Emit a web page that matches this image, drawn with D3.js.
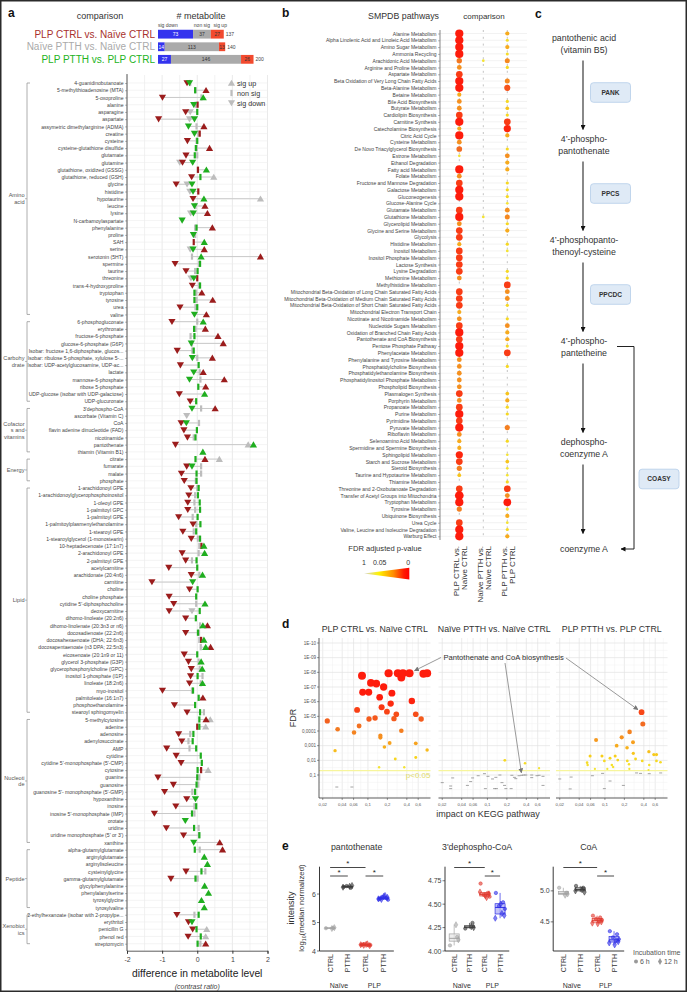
<!DOCTYPE html>
<html><head><meta charset="utf-8">
<script src="https://cdn.jsdelivr.net/npm/d3@7"></script>
<style>html,body{margin:0;padding:0;background:#fff}svg{display:block}</style>
</head><body>
<script>
// ================= DATA =================
// ---- panel a ----
const comparisons = ["PLP CTRL vs. Naïve CTRL","Naïve PTTH vs. Naïve CTRL","PLP PTTH vs. PLP CTRL"];
const countDown = [73,14,27];
const countNonSig = [37,113,146];
const countUp = [27,13,26];
const countTotal = [137,140,200];

const metabolites = ["4-guanidinobutanoate","5-methylthioadenosine (MTA)","5-oxoproline","alanine","asparagine","aspartate","assymetric dimethylarginine (ADMA)","creatine","cysteine","cysteine-glutathione disulfide",
"glutamate","glutamine","glutathione, oxidized (GSSG)","glutathione, reduced (GSH)","glycine","histidine","hypotaurine","leucine","lysine","N-carbamoylaspartate",
"phenylalanine","proline","SAH","serine","serotonin (5HT)","spermine","taurine","threonine","trans-4-hydroxyproline","tryptophan",
"tyrosine","urea","valine","6-phosphogluconate","erythronate","fructose-6-phosphate","glucose-6-phosphate (G6P)","Isobar: fructose 1,6-diphosphate, glucos...","Isobar: ribulose 5-phosphate, xylulose 5-...","Isobar: UDP-acetylglucosamine, UDP-ac...",
"lactate","mannose-6-phosphate","ribose 5-phosphate","UDP-glucose (isobar with UDP-galactose)","UDP-glucuronate","3'dephospho-CoA","ascorbate (Vitamin C)","CoA","flavin adenine dinucleotide (FAD)","nicotinamide",
"pantothenate","thiamin (Vitamin B1)","citrate","fumarate","malate","phosphate","1-arachidonoyl GPE","1-arachidonoylglycerophosphoinositol","1-oleoyl GPE","1-palmitoyl GPC",
"1-palmitoyl GPE","1-palmitoylplasmenylethanolamine","1-stearoyl GPE","1-stearoylglycerol (1-monostearin)","10-heptadecenoate (17:1n7)","2-arachidonoyl GPE","2-palmitoyl GPE","acetylcarnitine","arachidonate (20:4n6)","carnitine",
"choline","choline phosphate","cytidine 5'-diphosphocholine","deoxycarnitine","dihomo-linoleate (20:2n6)","dihomo-linolenate (20:3n3 or n6)","docosadienoate (22:2n6)","docosahexaenoate (DHA; 22:6n3)","docosapentaenoate (n3 DPA; 22:5n3)","eicosenoate (20:1n9 or 11)",
"glycerol 3-phosphate (G3P)","glycerophosphorylcholine (GPC)","inositol 1-phosphate (I1P)","linoleate (18:2n6)","myo-inositol","palmitoleate (16:1n7)","phosphoethanolamine","stearoyl sphingomyelin","5-methylcytosine","adenine",
"adenosine","adenylosuccinate","AMP","cytidine","cytidine 5'-monophosphate (5'-CMP)","cytosine","guanine","guanosine","guanosine 5'- monophosphate (5'-GMP)","hypoxanthine",
"inosine","inosine 5'-monophosphate (IMP)","orotate","uridine","uridine monophosphate (5' or 3')","xanthine","alpha-glutamylglutamate","arginylglutamate","arginylisoleucine","cysteinylglycine",
"gamma-glutamylglutamate","glycylphenylalanine","phenylalanylserine","tyrosylglycine","tyrosylvaline","2-ethylhexanoate (isobar with 2-propylpe...","erythritol","penicillin G","phenol red","streptomycin"];

const classLabels = [["Amino","acid"],["Carbohy","drate"],["Cofactor","s and","vitamins"],["Energy"],["Lipid"],["Nucleoti","de"],["Peptide"],["Xenobiot","ics"]];
const classSizes = [33,12,7,4,32,18,9,5];

// PLP CTRL vs. Naïve CTRL
const plpCtrlVal = [-0.29,0.25,-0.99,0.01,-0.33,-1.10,0.19,0.07,-0.28,0.35,
-0.32,-0.42,0.02,-0.16,-0.60,0.03,-0.12,0.22,0.29,null,
0.43,null,-0.10,0.20,1.80,-0.63,-0.32,0.00,-0.14,0.13,
0.44,-0.49,0.26,-0.72,0.23,0.59,0.74,-0.57,0.43,-0.48,
0.17,0.77,0.24,-0.51,-0.20,0.51,null,-0.46,-0.38,-0.28,
-0.62,null,0.22,-0.30,-0.45,-0.37,-0.18,-0.24,-0.27,-0.27,
-0.53,-0.12,-0.41,-0.17,0.12,-0.43,-0.33,-0.81,-0.17,-1.29,
-0.22,-0.80,-0.67,-0.80,-0.33,0.29,-0.33,0.11,0.38,-0.37,
-0.25,-0.17,-0.19,-0.22,-0.99,0.16,-0.65,-0.29,0.25,0.00,
-0.53,-0.44,-0.87,-0.60,-0.46,0.11,-1.12,-0.68,-0.93,-0.30,
-0.61,-1.22,null,-0.88,-0.39,0.64,0.72,null,null,-0.32,
-0.75,null,null,null,null,-0.58,-0.25,-0.13,-0.26,0.24];
const plpCtrlSig = ["d","u","d","n","d","d","u","n","d","u",
"d","d","n","d","d","n","d","u","u",null,
"u",null,"n","u","u","d","d","n","d","u",
"u","d","u","d","u","u","u","d","u","d",
"u","u","u","d","d","u",null,"d","d","d",
"d",null,"u","d","d","d","d","d","d","d",
"d","d","d","d","n","d","d","d","d","d",
"d","d","d","d","d","u","d","n","u","d",
"d","d","d","d","d","u","d","d","u","n",
"d","d","d","d","d","n","d","d","d","d",
"d","d",null,"d","d","u","u",null,null,"d",
"d",null,null,null,null,"d","d","d","d","u"];
// Naïve PTTH vs. Naïve CTRL
const naivePtthVal = [-0.20,-0.05,0.12,-0.05,-0.20,-0.22,-0.02,0.03,-0.02,-0.01,
0.00,-0.50,0.02,0.47,-0.29,-0.21,1.80,-0.05,-0.19,null,
-0.06,-0.06,null,-0.20,-0.15,0.05,-0.06,-0.18,0.05,-0.03,
-0.02,-0.05,null,0.00,-0.05,-0.19,-0.15,-0.14,0.00,null,
0.07,0.09,null,null,null,0.11,-0.30,0.05,null,-0.10,
1.45,null,0.63,0.11,0.11,-0.04,0.00,-0.06,-0.08,-0.06,
-0.13,-0.03,-0.10,0.02,0.06,0.04,-0.15,null,0.06,null,
null,null,-0.03,-0.15,null,0.08,0.05,0.06,0.10,null,
0.04,0.07,0.15,0.10,-0.15,null,null,0.19,0.37,0.24,
-0.20,-0.25,-0.22,null,null,0.31,0.06,0.03,-0.14,null,
-0.08,-0.08,null,0.04,0.05,null,0.07,null,null,0.23,
0.01,null,null,null,null,-0.08,null,0.27,0.24,0.09];
const naivePtthSig = ["n","n","n","n","d","d","n","n","n","n",
"n","d","n","u","d","d","u","n","d",null,
"n","n",null,"d","n","n","n","d","n","n",
"n","n",null,"n","n","n","n","n","n",null,
"n","n",null,null,null,"n","d","n",null,"n",
"u",null,"u","n","n","n","n","n","n","n",
"n","n","n","n","n","n","n",null,"n",null,
null,null,"n","d",null,"n","n","n","n",null,
"n","n","n","n","n",null,null,"n","u","u",
"n","n","n",null,null,"u","n","n","n",null,
"n","n",null,"n","n",null,"n",null,null,"n",
"n",null,null,null,null,"n",null,"u","u","n"];
// PLP PTTH vs. PLP CTRL
const plpPtthVal = [-0.22,-0.06,0.17,-0.10,0.00,-0.08,-0.25,-0.08,0.00,-0.04,
-0.07,-0.13,0.26,0.09,-0.15,-0.12,0.19,-0.08,-0.11,-0.43,
-0.02,-0.11,0.20,-0.12,0.11,0.08,0.01,-0.10,0.08,-0.08,
-0.08,0.00,-0.08,0.17,-0.09,-0.08,-0.17,-0.10,-0.14,0.04,
-0.10,-0.22,0.03,0.21,-0.03,-0.15,null,-0.31,-0.01,-0.05,
1.60,0.16,-0.05,-0.15,-0.02,-0.02,0.04,0.02,0.07,0.08,
0.01,0.09,-0.03,0.08,0.19,0.21,-0.02,0.00,0.15,-0.13,
0.01,-0.03,0.22,0.07,-0.04,0.16,0.02,0.19,0.24,0.00,
0.11,0.14,0.01,0.15,-0.12,0.04,-0.06,0.08,0.06,0.06,
-0.11,-0.13,-0.03,0.10,0.13,0.01,0.00,-0.02,-0.06,-0.05,
-0.03,-0.15,-0.34,-0.09,0.06,-0.10,-0.07,0.20,0.29,0.12,
-0.05,0.21,0.32,0.12,0.20,0.04,-0.15,-0.02,0.10,0.01];
const plpPtthSig = ["d","n","u","d","n","d","d","d","n","n",
"n","d","u","n","d","d","u","d","d","d",
"n","d","u","d","u","n","n","d","n","n",
"n","n","d","u","n","n","d","n","d","n",
"d","d","n","u","n","d",null,"d","n","n",
"u","u","n","d","n","n","n","n","n","n",
"n","n","n","n","u","u","n","n","u","d",
"n","n","u","n","n","u","n","u","u","n",
"u","u","n","u","n","n","n","n","n","n",
"n","n","n","n","n","n","n","n","n","d",
"n","n","d","n","n","d","n","u","u","n",
"n","u","u","u","u","n","d","n","n","n"];

// ---- panel b (values are -log10 FDR; 0 = not significant) ----
const pathways = ["Alanine Metabolism","Alpha Linolenic Acid and Linoleic Acid Metabolism","Amino Sugar Metabolism","Ammonia Recycling","Arachidonic Acid Metabolism","Arginine and Proline Metabolism","Aspartate Metabolism","Beta Oxidation of Very Long Chain Fatty Acids","Beta-Alanine Metabolism","Betaine Metabolism",
"Bile Acid Biosynthesis","Butyrate Metabolism","Cardiolipin Biosynthesis","Carnitine Synthesis","Catecholamine Biosynthesis","Citric Acid Cycle","Cysteine Metabolism","De Novo Triacylglycerol Biosynthesis","Estrone Metabolism","Ethanol Degradation",
"Fatty acid Metabolism","Folate Metabolism","Fructose and Mannose Degradation","Galactose Metabolism","Gluconeogenesis","Glucose-Alanine Cycle","Glutamate Metabolism","Glutathione Metabolism","Glycerolipid Metabolism","Glycine and Serine Metabolism",
"Glycolysis","Histidine Metabolism","Inositol Metabolism","Inositol Phosphate Metabolism","Lactose Synthesis","Lysine Degradation","Methionine Metabolism","Methylhistidine Metabolism","Mitochondrial Beta-Oxidation of Long Chain Saturated Fatty Acids","Mitochondrial Beta-Oxidation of Medium Chain Saturated Fatty Acids",
"Mitochondrial Beta-Oxidation of Short Chain Saturated Fatty Acids","Mitochondrial Electron Transport Chain","Nicotinate and Nicotinamide Metabolism","Nucleotide Sugars Metabolism","Oxidation of Branched Chain Fatty Acids","Pantothenate and CoA Biosynthesis","Pentose Phosphate Pathway","Phenylacetate Metabolism","Phenylalanine and Tyrosine Metabolism","Phosphatidylcholine Biosynthesis",
"Phosphatidylethanolamine Biosynthesis","Phosphatidylinositol Phosphate Metabolism","Phospholipid Biosynthesis","Plasmalogen Synthesis","Porphyrin Metabolism","Propanoate Metabolism","Purine Metabolism","Pyrimidine Metabolism","Pyruvate Metabolism","Riboflavin Metabolism",
"Selenoamino Acid Metabolism","Spermidine and Spermine Biosynthesis","Sphingolipid Metabolism","Starch and Sucrose Metabolism","Steroid Biosynthesis","Taurine and Hypotaurine Metabolism","Thiamine Metabolism","Threonine and 2-Oxobutanoate Degradation","Transfer of Acetyl Groups into Mitochondria","Tryptophan Metabolism",
"Tyrosine Metabolism","Ubiquinone Biosynthesis","Urea Cycle","Valine, Leucine and Isoleucine Degradation","Warburg Effect"];
const smpdbPlpCtrl = [7,7,7,7,4.2,3.6,5.5,7,7,3.0, 3.6,3.6,5.5,7,3.0,7,3.6,4.5,1.5,0, 7,3.6,5.5,7,7,0,5.5,7,3.6,5.5,
 5.5,3.0,5.5,5.5,5.5,5.5,3.6,0,5.5,5.5, 5.5,3.0,3.6,5.5,7,5.5,7,7,3.6,3.6, 3.6,3.6,3.6,5.5,3.6,5.5,7,5.5,7,3.6,
 3.0,3.0,6,5.5,4,2.5,0,5.5,7.5,7, 4,0,5.5,7,7];
const smpdbNaivePtth = [0,0,0,0,1.5,0,0,0,0,0, 0,0,0,0,0,0,0,0,0,0, 0,0,0,0,0,0,0,1.5,0,0,
 0,0,0,0,0,0,0,0,0,0, 0,0,0,0,0,0,0,0,0,0, 0,0,0,0,0,0,0,0,0,0,
 0,0,0,0,0,0,0,0,0,0, 0,0,0,0,0];
const smpdbPlpPtth = [3.0,1.8,3.0,1.8,3.8,2.0,0,3.8,5.0,0, 2.0,2.5,2.0,5.5,6,3.0,0,2.0,3.6,3.0, 3.0,0,2.0,2.0,2.0,1.5,3.6,3.8,2.0,3.0,
 0,2.0,1.5,0,0,2.0,2.0,5.5,3.6,3.6, 2.0,0,2.0,3.6,3.0,3.0,2.0,5.5,0,2.0, 0,0,0,2.5,3.0,2.0,2.0,0,4.0,0,
 2.0,0,1.5,2.5,1.5,1.5,2.0,5.5,3.6,6.5, 2.0,3.0,1.5,2.0,3.0];

// ---- panel c ----
const coaSteps = [["pantothenic acid","(vitamin B5)"],["4’-phospho-","pantothenate"],["4’-phosphopanto-","thenoyl-cysteine"],["4’-phospho-","pantetheine"],["dephospho-","coenzyme A"],["coenzyme A"]];
const coaEnzymes = ["PANK","PPCS","PPCDC","COASY"];

// ---- panel d (impact, -log10 FDR) ----
const keggImpact1 = [0.0235,0.031,0.034,0.033,0.0565,0.061,0.068,0.073,0.081,0.083,0.103,0.104,0.111,0.129,0.135,0.152,0.156,0.156,0.163,0.175,0.18,0.197,0.209,0.217,0.225,0.235,0.253,0.265,0.275,0.291,0.329,0.329,0.348,0.365,0.44,0.478,0.55,0.55,0.55,0.667,0.724,0.824,0.824,0.149];
const keggScore1 = [4.69,2.66,4.12,0.18,0.18,3.89,5.44,4.34,7.76,6.64,6.64,4.82,7.28,4.89,7.23,6.3,3.68,3.55,5.62,7.0,2.91,5.32,7.94,3.18,5.87,6.58,4.84,2.09,5.14,7.94,7.64,4.02,7.94,1.53,7.94,6.05,5.14,3.16,2.2,4.82,7.9,7.94,2.71,1.53];
const keggImpact2 = [0.186,0.382,0.63,0.020,0.029,0.027,0.027,0.049,0.055,0.059,0.072,0.090,0.093,0.102,0.120,0.129,0.135,0.138,0.156,0.168,0.184,0.193,0.233,0.239,0.262,0.275,0.309,0.34,0.365,0.392,0.485,0.485,0.585,0.63,0.725,0.725];
const keggScore2 = [2.0,1.8,1.46,0.48,0.8,0.25,0.07,0.29,0.55,0.8,0.95,1.09,0.07,0.91,0.73,0.07,0.84,0.07,1.0,0.48,0.29,0.07,0.07,0.98,0.84,0.75,0.95,0.98,1.0,1.0,0.82,1.0,0.95,0.98,0.91,0.29];
const keggImpact3 = [0.369,0.386,0.241,0.073,0.182,0.272,0.152,0.22,0.479,0.571,0.628,0.275,0.059,0.09,0.144,0.158,0.098,0.053,0.222,0.298,0.378,0.628,0.724,0.12,0.128,0.236,0.485,0.054,0.07,0.109,0.239,0.473,0.134,
 0.020,0.030,0.029,0.064,0.092,0.098,0.12,0.193,0.309,0.356,0.485,0.73];
const keggScore3 = [5.28,4.48,3.94,3.39,3.57,3.23,3.0,2.86,2.59,2.39,2.39,2.48,2.3,2.3,2.3,2.02,1.96,1.84,1.96,2.09,1.96,1.96,1.87,2.14,1.68,1.73,1.68,1.68,1.41,1.41,1.41,1.34,1.55,
 0.73,0.86,0.05,0.95,1.11,0.07,0.59,0.29,1.14,1.11,1.09,1.14];
const pantoCoaPoint = [[0.44,7.94],[0.34,0.98],[0.369,5.28]];
const fdrTickScores = [1,2,3,4,5,6,7,8,9,10];
const fdrTickLabels = ["0,1","0,01","0,001","0,0001","1E-05","1E-06","1E-07","1E-08","1E-09","1E-10"];
const impactTicks = [0.02,0.04,0.06,0.1,0.2,0.4,0.6];

// ---- panel e ----
const eMetabolites = ["pantothenate","3'dephospho-CoA","CoA"];
const eGroups = ["Naïve CTRL","Naïve PTTH","PLP CTRL","PLP PTTH"];
const panto6h  = [[4.80,4.81],[6.25,6.22,6.28],[4.22,4.20,4.24,4.21,4.23],[5.82,5.86,5.90,5.80,5.84]];
const panto12h = [[4.79,4.82],[6.27,6.30,6.24],[4.25,4.19,4.22,4.23,4.20],[5.95,5.88,5.83,5.92,5.81]];
const dpcoa6h  = [[4.06,4.15],[4.24,4.30],[4.72,4.62,4.60,4.58],[4.62,4.52,4.48,4.45]];
const dpcoa12h = [[4.28,4.12],[4.26,4.25],[4.57,4.61,4.63,4.59],[4.40,4.38,4.35,4.50]];
const coa6h    = [[5.05,4.97],[5.08,5.05],[4.60,4.57,4.55,4.53],[4.35,4.30,4.25,4.22]];
const coa12h   = [[4.93,4.95],[5.02,4.98,5.00],[4.52,4.50,4.48,4.47],[4.20,4.18,4.16,4.13]];
const eSigPairs = [[[0,2],[0,1],[2,3]],[[0,2],[2,3]],[[0,2],[2,3]]];

// ================= DRAW =================
const F = '"Liberation Sans", Arial, Helvetica, sans-serif';
const svg = d3.select("body").append("svg").attr("width",687).attr("height",992).style("font-family",F);
svg.append("rect").attr("width",687).attr("height",992).attr("fill","#fff");
const defs = svg.append("defs");
function mk(id,col,sz){
  defs.append("marker").attr("id",id).attr("viewBox","0 0 10 10").attr("refX",9).attr("refY",5)
   .attr("markerWidth",sz).attr("markerHeight",sz).attr("orient","auto").attr("markerUnits","userSpaceOnUse")
   .append("path").attr("d","M0,0L10,5L0,10Z").attr("fill",col);
}
mk("ahK","#111",5); mk("ahG","#777",5);
function T(g,x,y,s,size,o={}){
  const t=g.append("text").attr("x",x).attr("y",y).attr("font-size",size).text(s).attr("fill",o.fill||"#333");
  if(o.anchor) t.attr("text-anchor",o.anchor);
  if(o.weight) t.attr("font-weight",o.weight);
  if(o.style) t.attr("font-style",o.style);
  return t;
}
const sigColor = d3.scaleLinear().domain([1.3,2.2,3.2,4.5,6.2]).range(["#f3e83a","#f7d31a","#f7a11e","#f26a21","#fe1c0c"]).clamp(true);

// ---------- PANEL A ----------
const gA = svg.append("g");
T(gA,8,17,"a",12,{weight:"bold",fill:"#111"});
T(gA,100,19,"comparison",9,{anchor:"middle"});
T(gA,201,19,"# metabolite",9,{anchor:"middle"});
const compColors = ["#a8302c","#aaaaaa","#22b322"];
const yBar = d3.scaleBand().domain(comparisons).range([28.5,65]).paddingInner(0.3).paddingOuter(0.1);
const xBar = d3.scaleLinear().domain([0,200]).range([158,254]);
comparisons.forEach((c,i)=>{
  const y0 = yBar(c), bh = yBar.bandwidth();
  T(gA,155,y0+bh/2+3.6,c,10,{anchor:"end",fill:compColors[i]});
  const segs = [[countDown[i],"#3333ee","#fff"],[countNonSig[i],"#aaaaaa","#333"],[countUp[i],"#f24a2e","#333"]];
  let acc=0;
  segs.forEach(([v,col,tc])=>{
    gA.append("rect").attr("x",xBar(acc)).attr("y",y0).attr("width",xBar(acc+v)-xBar(acc)).attr("height",bh).attr("fill",col);
    T(gA,(xBar(acc)+xBar(acc+v))/2,y0+bh/2+1.8,v,5,{anchor:"middle",fill:tc});
    acc+=v;
  });
  T(gA,xBar(acc)+2,y0+bh/2+1.8,countTotal[i],5,{fill:"#444"});
  if(i===0){
    T(gA,xBar(0),y0-2.5,"sig down",5,{fill:"#444"});
    T(gA,(xBar(countDown[0])+xBar(countDown[0]+countNonSig[0]))/2,y0-2.5,"non sig",5,{anchor:"middle",fill:"#444"});
    T(gA,xBar(countDown[0]+countNonSig[0]+countUp[0]/2)+3,y0-2.5,"sig up",5,{anchor:"middle",fill:"#444"});
  }
});

const xA = d3.scaleLinear().domain([-2,2]).range([127,267.5]);
const yA = d3.scalePoint().domain(metabolites).range([83,943.7]);
gA.selectAll("line.vg").data(d3.range(-2,2.01,0.5)).join("line").attr("class","vg")
  .attr("x1",d=>xA(d)).attr("x2",d=>xA(d)).attr("y1",75).attr("y2",950.5)
  .attr("stroke","#e4e4e4").attr("stroke-width",d=>Number.isInteger(d)?0.8:0.5);
gA.selectAll("line.hg").data(metabolites).join("line").attr("class","hg")
  .attr("x1",127).attr("x2",268).attr("y1",d=>yA(d)).attr("y2",d=>yA(d)).attr("stroke","#ececec").attr("stroke-width",0.6);
const axL = gA.append("g").attr("transform","translate(127,0)").call(d3.axisLeft(yA).tickSize(2).tickPadding(1.5));
axL.select(".domain").remove();
axL.selectAll("text").attr("font-size",5.1).attr("fill","#444").attr("font-family",F);
axL.selectAll("line").attr("stroke","#777").attr("stroke-width",0.5);
gA.append("line").attr("x1",127).attr("x2",127).attr("y1",74).attr("y2",951).attr("stroke","#333").attr("stroke-width",0.8);
const axBa = gA.append("g").attr("transform","translate(0,950.7)").call(d3.axisBottom(xA).tickValues([-2,-1,0,1,2]).tickSize(3).tickFormat(d=>String(d)));
axBa.select(".domain").attr("stroke","#333").attr("stroke-width",0.8);
axBa.selectAll("text").attr("font-size",7).attr("fill","#444").attr("font-family",F);
axBa.selectAll("line").attr("stroke","#333");
T(gA,xA(0),977,"difference in metabolite level",10.3,{anchor:"middle",fill:"#222"});
T(gA,xA(0),989,"(contrast ratio)",7,{anchor:"middle",style:"italic",fill:"#444"});

// class brackets
let startIdx=0;
classSizes.forEach((n,k)=>{
  const y1=yA(metabolites[startIdx]), y2=yA(metabolites[startIdx+n-1]);
  gA.append("path").attr("d",`M30,${y1}H27V${y2}H30`).attr("fill","none").attr("stroke","#999").attr("stroke-width",0.8);
  const mid=(y1+y2)/2;
  gA.append("line").attr("x1",25).attr("x2",27).attr("y1",mid).attr("y2",mid).attr("stroke","#999").attr("stroke-width",0.7);
  const lines=classLabels[k];
  lines.forEach((l,j)=>T(gA,24.5,mid+2+(j-(lines.length-1)/2)*6.6,l,5.6,{anchor:"end",fill:"#555"}));
  startIdx+=n;
});

// connecting lines
const series = [[plpCtrlVal,plpCtrlSig,"#9b1c1c"],[naivePtthVal,naivePtthSig,"#bdbdbd"],[plpPtthVal,plpPtthSig,"#1fae1f"]];
metabolites.forEach((m,i)=>{
  const vals=[plpCtrlVal[i],naivePtthVal[i],plpPtthVal[i]].filter(v=>v!==null);
  if(vals.length>1){
    gA.append("line").attr("x1",xA(d3.min(vals))).attr("x2",xA(d3.max(vals))).attr("y1",yA(m)).attr("y2",yA(m))
      .attr("stroke","#c9c9c9").attr("stroke-width",1);
  }
});
function marker(g,x,y,sig,col){
  if(sig==="u") g.append("path").attr("d",`M${x},${y-3.3}L${x+3.6},${y+2.8}L${x-3.6},${y+2.8}Z`).attr("fill",col);
  else if(sig==="d") g.append("path").attr("d",`M${x},${y+3.3}L${x+3.6},${y-2.8}L${x-3.6},${y-2.8}Z`).attr("fill",col);
  else g.append("rect").attr("x",x-1.1).attr("y",y-3.1).attr("width",2.2).attr("height",6.2).attr("fill",col);
}
[1,0,2].forEach(si=>{
  const [vals,sigs,col]=series[si];
  metabolites.forEach((m,i)=>{ if(vals[i]!==null) marker(gA,xA(vals[i]),yA(m),sigs[i],col); });
});
// legend
marker(gA,231.5,83,"u","#bdbdbd"); T(gA,237,85.5,"sig up",7.2);
marker(gA,231.5,93,"n","#bdbdbd"); T(gA,237,95.5,"non sig",7.2);
marker(gA,231.5,103,"d","#bdbdbd"); T(gA,237,105.5,"sig down",7.2);

// ---------- PANEL B ----------
const gB = svg.append("g");
T(gB,282,17,"b",12,{weight:"bold",fill:"#111"});
T(gB,403.5,18.5,"SMPDB pathways",8.8,{anchor:"middle"});
T(gB,484,18.5,"comparison",8,{anchor:"middle"});
const yB = d3.scalePoint().domain(pathways).range([33.5,536.3]);
const xB = d3.scalePoint().domain(comparisons).range([459.3,507.3]);
gB.selectAll("line.hg").data(pathways).join("line").attr("class","hg")
  .attr("x1",440).attr("x2",527).attr("y1",d=>yB(d)).attr("y2",d=>yB(d)).attr("stroke","#e9e9e9").attr("stroke-width",0.6);
gB.selectAll("line.vg").data(comparisons).join("line").attr("class","vg")
  .attr("x1",d=>xB(d)).attr("x2",d=>xB(d)).attr("y1",30).attr("y2",540).attr("stroke","#9a9a9a").attr("stroke-width",0.6).attr("stroke-dasharray","2,4.8");
const axPB = gB.append("g").attr("transform","translate(440,0)").call(d3.axisLeft(yB).tickSize(2).tickPadding(1.5));
axPB.select(".domain").remove();
axPB.selectAll("text").attr("font-size",5).attr("fill","#444").attr("font-family",F);
axPB.selectAll("line").attr("stroke","#777").attr("stroke-width",0.5);
gB.append("line").attr("x1",440).attr("x2",440).attr("y1",30).attr("y2",540).attr("stroke","#555").attr("stroke-width",0.7);
const rB = s=>0.6+0.5*s;
[smpdbPlpCtrl,smpdbNaivePtth,smpdbPlpPtth].forEach((arr,ci)=>{
  arr.forEach((s,i)=>{ if(s>0) gB.append("circle").attr("cx",xB(comparisons[ci])).attr("cy",yB(pathways[i])).attr("r",rB(s)).attr("fill",sigColor(s)); });
});
comparisons.forEach(c=>{
  const parts=c.split(" vs. ");
  const g=gB.append("g").attr("transform",`translate(${xB(c)},546) rotate(-90)`);
  g.append("text").attr("x",0).attr("y",-0.8).attr("text-anchor","end").attr("font-size",8).attr("fill","#333").text(parts[0]+" vs.");
  g.append("text").attr("x",0).attr("y",7.6).attr("text-anchor","end").attr("font-size",8).attr("fill","#333").text(parts[1]);
});
T(gB,385,551,"FDR adjusted p-value",7.6,{anchor:"middle"});
T(gB,364,565,"1",7,{anchor:"middle"});
T(gB,379.7,565,"0.05",7,{anchor:"middle"});
T(gB,408.3,565,"0",7,{anchor:"middle"});
const lg = defs.append("linearGradient").attr("id","fdrg");
[[0,"#d4d4d4"],[0.33,"#fff200"],[0.65,"#ff8c00"],[0.88,"#ff1a00"],[1,"#ff0000"]].forEach(([o,c])=>lg.append("stop").attr("offset",o).attr("stop-color",c));
gB.append("path").attr("d","M364,573.6L409.3,567.7L409.3,579.5Z").attr("fill","url(#fdrg)");

// ---------- PANEL C ----------
const gC = svg.append("g");
T(gC,535,18,"c",12,{weight:"bold",fill:"#111"});
const yC = d3.scalePoint().domain(d3.range(coaSteps.length)).range([44,549]);
const cx0 = 584;
coaSteps.forEach((lines,i)=>{
  lines.forEach((l,j)=>T(gC,cx0,yC(i)+3.1+(j-(lines.length-1)/2)*12.3,l,8.8,{anchor:"middle",fill:"#333"}));
  if(i<coaSteps.length-1){
    gC.append("line").attr("x1",583).attr("x2",583).attr("y1",yC(i)+16.5).attr("y2",yC(i+1)-15.5)
      .attr("stroke","#6b6b6b").attr("stroke-width",1.6).attr("marker-end","url(#ahK)");
  }
});
function enzBox(x,yc,label){
  gC.append("rect").attr("x",x).attr("y",yc-9.8).attr("width",40).attr("height",19.6).attr("rx",3)
    .attr("fill","#dfeaf6").attr("stroke","#b4cde8").attr("stroke-width",0.8);
  T(gC,x+20,yc+2.4,label,6.6,{anchor:"middle",weight:"bold",fill:"#333"});
}
coaEnzymes.slice(0,3).forEach((e,i)=>enzBox(590.5,(yC(i)+yC(i+1))/2-2,e));
enzBox(639,yC(4)+31,coaEnzymes[3]);
gC.append("path").attr("d",`M617,${yC(3)-0.5}H634V${yC(5)}H621`).attr("fill","none").attr("stroke","#222").attr("stroke-width",1).attr("marker-end","url(#ahK)");

// ---------- PANEL D ----------
const gD = svg.append("g");
T(gD,282,628,"d",12,{weight:"bold",fill:"#111"});
const facetLefts=[319,438.5,556], fW=111.5, dTop=638, dBot=798;
const yD = d3.scaleLinear().domain([1,10]).range([775,643]);
const facetData=[[keggImpact1,keggScore1],[keggImpact2,keggScore2],[keggImpact3,keggScore3]];
const rD = s=>0.5+0.45*s;
const xDs=[];
comparisons.forEach((c,k)=>{
  const L=facetLefts[k];
  const x=d3.scaleLog().domain([0.0175,0.93]).range([L,L+fW]);
  xDs.push(x);
  T(gD,L+fW/2,632,c,8.8,{anchor:"middle"});
  // grid
  const minorX=impactTicks.slice(0,-1).map((t,i)=>Math.sqrt(t*impactTicks[i+1])).concat([0.8]);
  minorX.forEach(t=>gD.append("line").attr("x1",x(t)).attr("x2",x(t)).attr("y1",dTop).attr("y2",dBot).attr("stroke","#f0f0f0").attr("stroke-width",0.5));
  impactTicks.forEach(t=>gD.append("line").attr("x1",x(t)).attr("x2",x(t)).attr("y1",dTop).attr("y2",dBot).attr("stroke","#e3e3e3").attr("stroke-width",0.7));
  d3.range(-0.5,10.4,0.5).forEach(s=>{
    if(yD(s)<dTop||yD(s)>dBot) return;
    gD.append("line").attr("x1",L).attr("x2",L+fW).attr("y1",yD(s)).attr("y2",yD(s))
      .attr("stroke",Number.isInteger(s)&&s>=1?"#e3e3e3":"#f0f0f0").attr("stroke-width",Number.isInteger(s)&&s>=1?0.7:0.5);
  });
  gD.append("line").attr("x1",L).attr("x2",L+fW).attr("y1",yD(1.301)).attr("y2",yD(1.301)).attr("stroke","#f7f59c").attr("stroke-width",1.3);
  // axis bottom
  gD.append("line").attr("x1",L).attr("x2",L+fW).attr("y1",dBot).attr("y2",dBot).attr("stroke","#333").attr("stroke-width",0.8);
  impactTicks.forEach(t=>{
    gD.append("line").attr("x1",x(t)).attr("x2",x(t)).attr("y1",dBot).attr("y2",dBot+2).attr("stroke","#333").attr("stroke-width",0.5);
    T(gD,x(t),dBot+7.5,String(t).replace(".",","),4.3,{anchor:"middle",fill:"#555"});
  });
  // points
  const [imp,sc]=facetData[k];
  imp.forEach((v,i)=>{
    const s=sc[i];
    if(s<1.3){
      gD.append("line").attr("x1",x(v)-1.5).attr("x2",x(v)+1.5).attr("y1",yD(s)).attr("y2",yD(s)).attr("stroke","#8c8c8c").attr("stroke-width",0.8);
    }
  });
  const order=d3.range(imp.length).filter(i=>sc[i]>=1.3).sort((a,b)=>sc[a]-sc[b]);
  order.forEach(i=>gD.append("circle").attr("cx",x(imp[i])).attr("cy",yD(sc[i])).attr("r",rD(sc[i])).attr("fill",sigColor(sc[i])));
});
gD.append("line").attr("x1",319).attr("x2",319).attr("y1",dTop).attr("y2",dBot).attr("stroke","#333").attr("stroke-width",0.8);
fdrTickScores.forEach((s,i)=>{
  gD.append("line").attr("x1",317).attr("x2",319).attr("y1",yD(s)).attr("y2",yD(s)).attr("stroke","#333").attr("stroke-width",0.5);
  T(gD,316,yD(s)+1.6,fdrTickLabels[i],4.6,{anchor:"end",fill:"#555"});
});
T(gD,430.5,778,"p<0.05",8,{anchor:"end",fill:"#e2dc6a"});
gD.append("text").attr("transform","translate(296,718) rotate(-90)").attr("text-anchor","middle").attr("font-size",9).attr("fill","#333").text("FDR");
T(gD,488,817,"impact on KEGG pathway",9,{anchor:"middle"});
T(gD,443.5,660,"Pantothenate and CoA biosynthesis",7.6,{fill:"#333"});
const arrowStarts=[[441,657.5],[505,663],[566,658]];
pantoCoaPoint.forEach((p,k)=>{
  const tx=xDs[k](p[0]), ty=yD(p[1]);
  const [sx,sy]=arrowStarts[k];
  const dx=tx-sx, dy=ty-sy, len=Math.hypot(dx,dy), off=(p[1]>=1.3?rD(p[1]):1)+1.5;
  gD.append("line").attr("x1",sx).attr("y1",sy).attr("x2",tx-dx/len*off).attr("y2",ty-dy/len*off)
    .attr("stroke","#808080").attr("stroke-width",0.8).attr("marker-end","url(#ahG)");
});

// ---------- PANEL E ----------
const gE = svg.append("g");
T(gE,282,850,"e",12,{weight:"bold",fill:"#111"});
const eData=[[panto6h,panto12h],[dpcoa6h,dpcoa12h],[coa6h,coa12h]];
const eLayout=[{L:319.5,step:17.7,dom:[4,6.96],ticks:[4,5,6],fmt:d3.format("d")},
               {L:445,step:15.3,dom:[4,4.9],ticks:[4,4.25,4.5,4.75],fmt:d3.format(".2f")},
               {L:553.2,step:16.9,dom:[4.03,5.39],ticks:[4.5,5.0],fmt:d3.format(".1f")}];
const eCol=["#a3a3a3","#3a3a3a","#e0392e","#2f2fe6"];
const eFill=["#e6e6e6","#9a9a9a","#f3b0aa","#a9a9f5"];
const jit=[-3.5,2.5,-1,4,-2.5,1.5,3.5,-4,0.5,-1.5];
const eTop=866.7,eBot=951;
eMetabolites.forEach((m,k)=>{
  const lay=eLayout[k];
  const x=d3.scalePoint().domain(eGroups).range([lay.L+0.6*lay.step,lay.L+3.6*lay.step]);
  const y=d3.scaleLinear().domain(lay.dom).range([eBot,eTop]);
  const R=lay.L+4.2*lay.step;
  T(gE,(lay.L+R)/2,850,m,8.8,{anchor:"middle"});
  gE.append("path").attr("d",`M${lay.L},${eTop}V${eBot}H${R}`).attr("fill","none").attr("stroke","#222").attr("stroke-width",0.9);
  lay.ticks.forEach(t=>{
    gE.append("line").attr("x1",lay.L-2.5).attr("x2",lay.L).attr("y1",y(t)).attr("y2",y(t)).attr("stroke","#222").attr("stroke-width",0.6);
    T(gE,lay.L-3.5,y(t)+2.5,lay.fmt(t),7,{anchor:"end",fill:"#444"});
  });
  const [d6,d12]=eData[k];
  eGroups.forEach((g,gi)=>{
    const xc=x(g);
    const all=d6[gi].concat(d12[gi]).slice().sort(d3.ascending);
    const q1=d3.quantile(all,0.25),q3=d3.quantile(all,0.75),md=d3.quantile(all,0.5),iqr=q3-q1;
    const lo=d3.min(all.filter(v=>v>=q1-1.5*iqr)),hi=d3.max(all.filter(v=>v<=q3+1.5*iqr));
    gE.append("line").attr("x1",xc).attr("x2",xc).attr("y1",y(lo)).attr("y2",y(hi)).attr("stroke",eCol[gi]).attr("stroke-width",0.7);
    gE.append("rect").attr("x",xc-5).attr("y",y(q3)).attr("width",10).attr("height",Math.max(0.6,y(q1)-y(q3)))
      .attr("fill",eFill[gi]).attr("fill-opacity",0.7).attr("stroke",eCol[gi]).attr("stroke-width",0.7);
    gE.append("line").attr("x1",xc-5).attr("x2",xc+5).attr("y1",y(md)).attr("y2",y(md)).attr("stroke",eCol[gi]).attr("stroke-width",1);
    d6[gi].forEach((v,i)=>gE.append("circle").attr("cx",xc+jit[i%10]*1.2).attr("cy",y(v)).attr("r",1.7)
      .attr("fill",eCol[gi]).attr("fill-opacity",0.6).attr("stroke",eCol[gi]).attr("stroke-width",0.5));
    d12[gi].forEach((v,i)=>gE.append("path").attr("d",d3.symbol(d3.symbolDiamond,11)())
      .attr("transform",`translate(${xc+jit[(i+5)%10]*1.2},${y(v)})`)
      .attr("fill",eCol[gi]).attr("fill-opacity",0.6).attr("stroke",eCol[gi]).attr("stroke-width",0.5));
    const lab=g.split(" ")[1];
    gE.append("text").attr("transform",`translate(${xc+2.6},954) rotate(-90)`).attr("text-anchor","end").attr("font-size",7).attr("fill","#333").text(lab);
  });
  T(gE,(x(eGroups[0])+x(eGroups[1]))/2,987.5,"Naïve",7,{anchor:"middle"});
  T(gE,(x(eGroups[2])+x(eGroups[3]))/2,987.5,"PLP",7,{anchor:"middle"});
  eSigPairs[k].forEach(([a,b])=>{
    const yy = (b-a===2)?867.5:876;
    const x1=x(eGroups[a]),x2=x(eGroups[b]);
    gE.append("line").attr("x1",x1).attr("x2",x2).attr("y1",yy).attr("y2",yy).attr("stroke","#333").attr("stroke-width",0.9);
    T(gE,(x1+x2)/2,yy-1.2,"*",8,{anchor:"middle",fill:"#222"});
  });
});
gE.append("text").attr("transform","translate(294,908) rotate(-90)").attr("text-anchor","middle").attr("font-size",9).attr("fill","#333").text("intensity");
const yt=gE.append("text").attr("transform","translate(303.5,908) rotate(-90)").attr("text-anchor","middle").attr("font-size",7.8).attr("fill","#333");
yt.append("tspan").text("log");
yt.append("tspan").attr("font-size",5.2).attr("dy",2).text("10");
yt.append("tspan").attr("dy",-2).text("(median normalized)");
T(gE,633,955,"Incubation time",7,{fill:"#555"});
gE.append("circle").attr("cx",636).attr("cy",961.5).attr("r",2).attr("fill","#999");
T(gE,640,964,"6 h",7,{fill:"#555"});
gE.append("path").attr("d",d3.symbol(d3.symbolDiamond,14)()).attr("transform","translate(660,961.5)").attr("fill","#999");
T(gE,664,964,"12 h",7,{fill:"#555"});

// frame
svg.append("rect").attr("x",0.75).attr("y",0.75).attr("width",685.5).attr("height",990.5).attr("fill","none").attr("stroke","#2b2b2b").attr("stroke-width",1.5);
</script>
</body></html>
